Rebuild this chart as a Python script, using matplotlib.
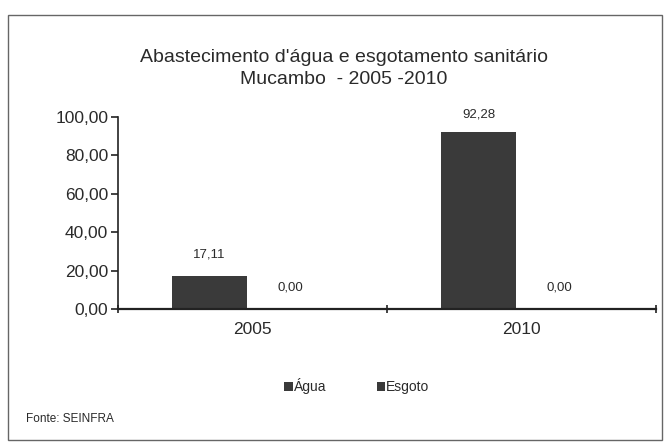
import numpy as np
import matplotlib.pyplot as plt
from matplotlib.patches import Rectangle

# Dados
anos = ['2005', '2010']
agua = [17.11, 92.28]
esgoto = [0.00, 0.00]
yticks = [0, 20, 40, 60, 80, 100]

def fmt(v):
    return f"{v:.2f}".replace('.', ',')

plt.rcParams['font.family'] = ['Liberation Sans', 'DejaVu Sans']

fig = plt.figure(figsize=(6.71, 4.48), dpi=100)
ax = fig.add_axes([118/671, 1 - 309/448, (656 - 118)/671, (309 - 117)/448])

x = np.arange(len(anos))
w = 0.28
b1 = ax.bar(x - 0.16, agua, w, color='#3a3a3a', label='Água')
b2 = ax.bar(x + 0.14, esgoto, w, color='#3a3a3a', label='Esgoto')

# rótulos das barras
for bars, vals in [(b1, agua), (b2, esgoto)]:
    for bar, v in zip(bars, vals):
        off = 8 if v > 50 else 11
        ax.annotate(fmt(v), (bar.get_x() + bar.get_width() / 2, v),
                    xytext=(0, off), textcoords='offset points',
                    ha='center', va='bottom', fontsize=9.5, color='#2a2a2a')

# eixos
ax.set_xlim(-0.5, len(anos) - 0.5)
ax.set_ylim(0, 100)
ax.set_yticks(yticks)
ax.set_yticklabels([fmt(v) for v in yticks], fontsize=12.5, color='#2a2a2a')
ax.set_xticks(x)
ax.set_xticklabels(anos, fontsize=12.5, color='#2a2a2a')
ax.tick_params(axis='x', length=0, pad=9)
ax.tick_params(axis='y', length=5, width=1.2, pad=2, color='#222222')
# marcas entre categorias
ax.set_xticks(np.arange(len(anos) + 1) - 0.5, minor=True)
ax.tick_params(axis='x', which='minor', length=6, width=1.2, direction='inout', color='#222222')
for s in ['top', 'right']:
    ax.spines[s].set_visible(False)
ax.spines['left'].set_linewidth(1.2)
ax.spines['bottom'].set_linewidth(1.6)
ax.spines['left'].set_color('#222222')
ax.spines['bottom'].set_color('#222222')

# título
fig.text(344/671, 1 - 58/448, "Abastecimento d'água e esgotamento sanitário",
         ha='center', va='center', fontsize=14, color='#2a2a2a')
fig.text(344/671, 1 - 80/448, "Mucambo  - 2005 -2010",
         ha='center', va='center', fontsize=14, color='#2a2a2a')

# legenda
fig.legend(handles=[b1, b2], loc='center', bbox_to_anchor=(357/671, 1 - 386/448),
           ncol=2, frameon=False, fontsize=10, handlelength=0.6, handleheight=0.6,
           handletextpad=0.1, columnspacing=3.6, labelcolor='#2a2a2a')

fig.text(26/671, 1 - 419/448, "Fonte: SEINFRA", ha='left', va='center', fontsize=8.5, color='#2a2a2a')

# moldura
fig.patches.append(Rectangle((8/671, 1 - 440/448), (662 - 8)/671, (440 - 15)/448,
                             transform=fig.transFigure, fill=False,
                             edgecolor='#666666', linewidth=1.0))

fig.savefig('out.png', dpi=100, facecolor='white')
